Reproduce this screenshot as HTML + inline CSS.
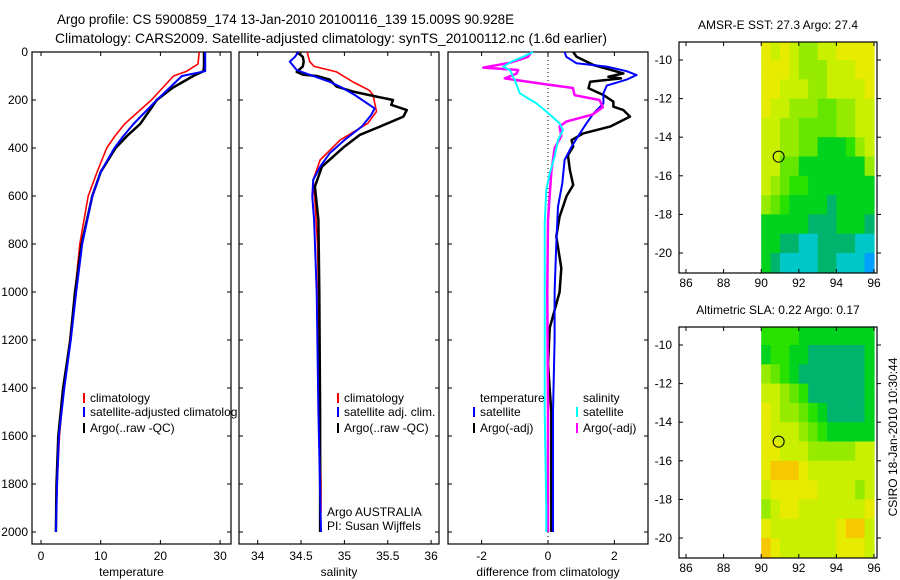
<!DOCTYPE html>
<html><head><meta charset="utf-8"><style>
html,body{margin:0;padding:0;background:#fff;}
svg{display:block;font-family:"Liberation Sans",sans-serif;}
text{font-size:12px;fill:#000;}
</style></head><body>
<svg id="chart" width="900" height="580" viewBox="0 0 900 580" xmlns="http://www.w3.org/2000/svg">
<text x="57" y="24" style="font-size:14px" textLength="457" lengthAdjust="spacingAndGlyphs">Argo profile: CS 5900859_174 13-Jan-2010 20100116_139 15.009S 90.928E</text>
<text x="55" y="43" style="font-size:14px" textLength="552" lengthAdjust="spacingAndGlyphs">Climatology: CARS2009. Satellite-adjusted climatology: synTS_20100112.nc (1.6d earlier)</text>
<g id="g"></g>
</svg>
<script>
// ---- data ----
const tempClimDepth=[0,50,80,100,200,300,350,400,500,600,800,1000,1200,1400,1600,1800,1950];
const tempClim=[26.5,26.3,24.4,22.2,18.5,14,12.4,11,9.4,7.9,6.5,5.7,4.8,3.8,3.1,2.7,2.5];
const tempSatDepth=[0,80,100,150,200,300,350,400,500,600,800,1000,1200,1400,1600,1800,2000];
const tempSat=[27.5,27.5,23.6,21.5,19.4,15.5,13.8,12.3,10.0,8.6,6.9,5.9,5.0,3.9,3.0,2.7,2.5];
const tempArgoDepth=[0,60,80,100,150,200,250,300,350,400,500,600,800,1000,1200,1400,1600,1800,2000];
const tempArgo=[27.3,27.3,27.2,25.5,22,19.4,18.0,16.6,14.4,12.5,10.0,8.6,6.8,5.7,4.9,3.7,2.9,2.6,2.5];

const salClimDepth=[0,40,60,83,125,160,179,248,297,367,450,533,617,800,1000,1400,1800,1920];
const salClim=[34.57,34.6,34.65,34.91,35.1,35.29,35.33,35.37,35.27,34.95,34.72,34.64,34.66,34.69,34.7,34.71,34.73,34.73];
const salSatDepth=[0,20,40,75,90,124,144,179,235,262,311,367,422,478,533,603,700,1000,1500,2000];
const salSat=[34.47,34.43,34.37,34.45,34.56,34.83,34.95,35.12,35.35,35.31,35.2,35.0,34.83,34.72,34.64,34.63,34.65,34.68,34.7,34.73];
const salArgoDepth=[0,20,40,60,83,94,100,115,144,165,186,200,220,242,269,311,345,394,478,561,700,1000,1500,2000];
const salArgo=[34.45,34.52,34.53,34.52,34.45,34.52,34.68,34.83,34.91,35.1,35.37,35.56,35.54,35.72,35.68,35.41,35.18,35.0,34.74,34.66,34.7,34.71,34.72,34.72];

const dTSatDepth=[0,20,47,61,80,96,115,140,172,214,256,297,339,394,450,547,644,800,1000,1200,1500,2000];
const dTSat=[0.5,0.55,0.86,1.77,2.37,2.67,2.37,1.77,1.67,1.67,1.37,1.16,0.96,0.71,0.5,0.43,0.3,0.25,0.2,0.2,0.15,0.15];
const dTArgoDepth=[0,20,54,89,103,110,124,151,179,207,228,242,269,311,339,367,394,430,492,554,600,686,769,900,1000,1150,1300,1500,1700,2000];
const dTArgo=[0.76,0.86,1.37,2.27,1.82,2.2,1.27,1.22,1.67,1.97,1.97,2.27,2.47,1.87,1.06,0.71,0.76,0.6,0.66,0.76,0.56,0.35,0.25,0.4,0.35,0.05,0,0.1,0.1,0.1];
const dSSatDepth=[0,20,40,61,75,117,172,214,248,297,325,367,436,506,575,714,1000,1500,1900,2000];
const dSSat=[-0.45,-0.75,-1.1,-1.35,-1.15,-1.0,-0.85,-0.35,-0.05,0.35,0.45,0.3,0.2,0.05,-0.05,-0.1,-0.1,-0.1,-0.05,-0.05];
const dSArgoDepth=[0,20,45,55,65,75,90,110,135,150,180,200,230,260,290,310,350,400,500,700,1000,1500,2000];
const dSArgo=[-0.5,-0.6,-1.15,-1.55,-1.95,-0.9,-0.95,-1.3,-0.05,0.75,0.8,1.55,1.65,1.35,0.55,0.35,0.4,0.2,0.1,0,-0.02,0,0];

const depthTicks=[0,200,400,600,800,1000,1200,1400,1600,1800,2000];
const tempTicks=[0,10,20,30];
const salTicks=[34,34.5,35,35.5,36];
const diffTicks=[-2,0,2];
const lonTicks=[86,88,90,92,94,96];
const latTicks=[-10,-12,-14,-16,-18,-20];

// map grids: rows lat -9 .. -21 (1 deg), cols lon 90..96 (0.5 deg); digits = colour level
const sstGrid=["878766778888","888766677788","887776677778","877666556677","776655556677","776655333467","775533333336","765443333333","654333323333","333332223332","332211222211","321111221110"];
const slaGrid=["444433333333","344332222223","654322222223","776542222223","876654322223","877765433333","887776666677","899987777777","788888777767","678877777778","877777778997","987777778887"];
const palette=["#00a0ff","#00c8c8","#00b46e","#00d21e","#28e100","#64e600","#96eb00","#c8f000","#e6eb00","#f5c800"];

// ---- drawing ----
const NS="http://www.w3.org/2000/svg";
const G=document.getElementById('g');
function mk(tag,attrs,parent){const e=document.createElementNS(NS,tag);for(const k in attrs)e.setAttribute(k,attrs[k]);(parent||G).appendChild(e);return e;}
const yD=d=>52+0.24*d;
const xT=t=>41+5.97*t;
const xS=s=>257.7+86.7*(s-34);
const xV=v=>548+33.2*v;

function panel(name,x0,x1,ticks,fx,labels,xlabel,showDepth){
  const r=mk('rect',{x:x0,y:52,width:x1-x0,height:492,fill:'none',stroke:'#000','stroke-width':1.2});
  
  
  depthTicks.forEach(d=>{
    mk('line',{x1:x0,x2:x0+4,y1:yD(d),y2:yD(d),stroke:'#000'});
    mk('line',{x1:x1,x2:x1-4,y1:yD(d),y2:yD(d),stroke:'#000'});
    if(showDepth){const t=mk('text',{x:x0-4,y:yD(d)+4,'text-anchor':'end'});t.textContent=d;
      
      }
  });
  ticks.forEach((v,i)=>{
    mk('line',{x1:fx(v),x2:fx(v),y1:52,y2:56,stroke:'#000'});
    mk('line',{x1:fx(v),x2:fx(v),y1:544,y2:540,stroke:'#000'});
    const t=mk('text',{x:fx(v),y:560,'text-anchor':'middle'});t.textContent=labels[i];
    
    
  });
  const xl=mk('text',{x:(x0+x1)/2,y:576,'text-anchor':'middle'});xl.textContent=xlabel;
  
  
}
function line(name,depths,vals,fx,color,w){
  const pts=depths.map((d,i)=>fx(vals[i]).toFixed(1)+','+yD(d).toFixed(1)).join(' ');
  const p=mk('polyline',{points:pts,fill:'none',stroke:color,'stroke-width':w,'stroke-linejoin':'round'});
  
  
}
function legend(name,x,y,color,label){
  mk('line',{x1:x,x2:x,y1:y-9,y2:y+1,stroke:color,'stroke-width':2});
  const t=mk('text',{x:x+6,y:y});t.textContent=label;
  
  
}

panel('temperature-panel',32,231,tempTicks,xT,tempTicks.map(String),'temperature',true);
panel('salinity-panel',239,439,salTicks,xS,salTicks.map(String),'salinity',false);
panel('difference-panel',448,648,diffTicks,xV,diffTicks.map(String),'difference from climatology',false);
mk('line',{x1:xV(0),x2:xV(0),y1:52,y2:544,stroke:'#000','stroke-dasharray':'1,3'});

line('temp-climatology-line',tempClimDepth,tempClim,xT,'#ff0000',1.6);
line('temp-argo-line',tempArgoDepth,tempArgo,xT,'#000',2.5);
line('temp-satellite-line',tempSatDepth,tempSat,xT,'#0000ff',2);
line('sal-climatology-line',salClimDepth,salClim,xS,'#ff0000',1.6);
line('sal-argo-line',salArgoDepth,salArgo,xS,'#000',2.5);
line('sal-satellite-line',salSatDepth,salSat,xS,'#0000ff',2);
line('diff-temp-argo-line',dTArgoDepth,dTArgo,xV,'#000',2.5);
line('diff-temp-satellite-line',dTSatDepth,dTSat,xV,'#0000ff',2);
line('diff-sal-argo-line',dSArgoDepth,dSArgo,xV,'#ff00ff',2.5);
line('diff-sal-satellite-line',dSSatDepth,dSSat,xV,'#00ffff',2);

legend('legend-climatology',84,402,'#ff0000','climatology');
legend('legend-satellite-adjusted',84,416,'#0000ff','satellite-adjusted climatolog');
legend('legend-argo',84,432,'#000','Argo(..raw -QC)');
legend('legend-sal-climatology',338,402,'#ff0000','climatology');
legend('legend-sal-satellite',338,416,'#0000ff','satellite adj. clim.');
legend('legend-sal-argo',338,432,'#000','Argo(..raw -QC)');
{const t=mk('text',{x:480,y:402});t.textContent='temperature';


const s=mk('text',{x:583,y:402});s.textContent='salinity';

}
legend('legend-diff-temp-satellite',474,416,'#0000ff','satellite');
legend('legend-diff-temp-argo',474,432,'#000','Argo(-adj)');
legend('legend-diff-sal-satellite',577,416,'#00ffff','satellite');
legend('legend-diff-sal-argo',577,432,'#ff00ff','Argo(-adj)');
{const t=mk('text',{x:327,y:516});t.textContent='Argo AUSTRALIA';


const s=mk('text',{x:327,y:530});s.textContent='PI: Susan Wijffels';

}

function map(name,top,grid,title){
  const xL=l=>686+18.8*(l-86);
  const yL=la=>top+18+19.3*(-10-la);
  const cg=mk('clipPath',{id:name+'-clip'});
  mk('rect',{x:679,y:top,width:198,height:231},cg);
  const gg=mk('g',{'clip-path':'url(#'+name+'-clip)'});
  
  
  grid.forEach((row,r)=>{
    for(let c=0;c<row.length;c++){
      const lon=90+c*0.5, lat=-9-r;
      const x=xL(lon), y=yL(lat);
      const cell=mk('rect',{x:x.toFixed(1),y:y.toFixed(1),width:(18.8*0.5+0.6).toFixed(1),height:(19.3+0.6).toFixed(1),fill:palette[+row[c]]},gg);
      
      
    }
  });
  const fr=mk('rect',{x:679,y:top,width:198,height:231,fill:'none',stroke:'#000','stroke-width':1.2});
  
  
  lonTicks.forEach(l=>{
    mk('line',{x1:xL(l),x2:xL(l),y1:top,y2:top+4,stroke:'#000'});
    mk('line',{x1:xL(l),x2:xL(l),y1:top+231,y2:top+227,stroke:'#000'});
    const t=mk('text',{x:xL(l),y:top+245,'text-anchor':'middle'});t.textContent=l;
    
    
  });
  latTicks.forEach(la=>{
    mk('line',{x1:679,x2:683,y1:yL(la),y2:yL(la),stroke:'#000'});
    mk('line',{x1:877,x2:881,y1:yL(la),y2:yL(la),stroke:'#000'});
    const t=mk('text',{x:672,y:yL(la)+4,'text-anchor':'end'});t.textContent=la;
    
    
  });
  const c=mk('circle',{cx:xL(90.928),cy:yL(-15.009),r:5.5,fill:'none',stroke:'#000','stroke-width':1});
  
  
  const t=mk('text',{x:778,y:top-13,'text-anchor':'middle'});t.textContent=title;
  
  
}
map('sst-map',42,sstGrid,'AMSR-E SST: 27.3 Argo: 27.4');
map('sla-map',327,slaGrid,'Altimetric SLA: 0.22 Argo: 0.17');
{const t=mk('text',{x:897,y:437,'text-anchor':'middle',transform:'rotate(-90 897 437)'});t.textContent='CSIRO 18-Jan-2010 10:30:44';

}
</script>
</body></html>
